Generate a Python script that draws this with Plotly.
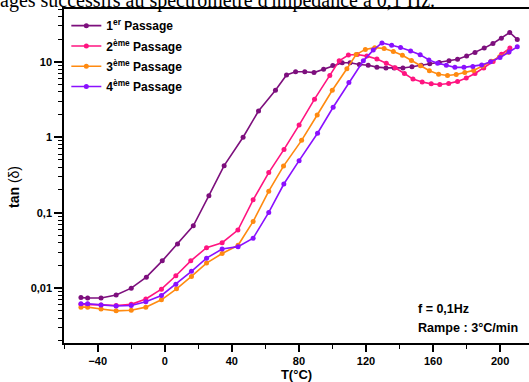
import plotly.graph_objects as go

# ---------------- data ----------------
t1 = [-50, -46, -38, -29, -20, -11, -1.5, 7.6, 17, 26.3, 35.4, 46.7, 55.9, 66, 72.6, 78, 83.5, 89,
      94.7, 100.2, 105.8, 110.5, 116, 121.3, 126.5, 131.9, 136.8, 142, 147.4, 152.9, 158, 163.7,
      169.5, 174.6, 180, 185, 190.5, 195.7, 200.7, 205.7, 210.2]
y1 = [0.0075, 0.0074, 0.0074, 0.0081, 0.010, 0.014, 0.023, 0.0385, 0.067, 0.168, 0.42, 1.0, 2.23, 4.2, 6.7, 7.4, 7.4, 7.2,
      7.95, 8.95, 9.7, 9.7, 9.2, 9.0, 8.5, 8.3, 8.3, 8.3, 8.6, 9.0, 9.4, 9.8,
      10.3, 10.8, 11.9, 13.3, 15.2, 17.5, 20.6, 24.5, 19.8]

t2 = [-50, -46, -38, -29, -20, -11.3, -2, 6.6, 15.5, 24.9, 34.2, 43.6, 52.7, 62, 71.1, 80.1, 89.3,
      98.4, 104, 109.5, 114.8, 120.5, 126.5, 132.1, 137.4, 142.9, 148, 153.5, 158.9, 164, 169.3,
      174.6, 179.8, 185, 190.2, 195.8, 200.8, 205.8]
y2 = [0.0061, 0.0061, 0.0060, 0.0059, 0.0061, 0.0072, 0.0097, 0.0146, 0.023, 0.0344, 0.040, 0.0588, 0.148, 0.34, 0.69, 1.45, 3.2,
      6.6, 10.3, 12.3, 12.5, 11.9, 10.9, 9.6, 8.35, 7.0, 5.9, 5.4, 5.1, 5.0, 5.15,
      5.5, 6.1, 7.0, 8.3, 10.1, 12.6, 15.2]

t3 = [-50, -46, -38, -29, -20, -11.3, -2, 7, 15.9, 24.9, 34.2, 43.7, 52.7, 62, 70.8, 81.6, 90.9,
      99.9, 108.6, 114.1, 119.6, 125.2, 130.8, 136.3, 141.7, 147.1, 152.5, 157.8, 163.3, 168.6,
      173.8, 178.9, 184.2, 189.4, 194.6, 199.7, 204.8]
y3 = [0.0056, 0.0056, 0.0053, 0.0050, 0.0051, 0.0056, 0.0070, 0.0098, 0.0143, 0.0215, 0.0288, 0.037, 0.0766, 0.193, 0.415, 0.91, 1.97,
      4.2, 8.1, 12.5, 14.6, 15.4, 15.0, 13.7, 12.2, 10.4, 8.9, 7.6, 6.85, 6.6,
      6.8, 7.2, 7.7, 8.8, 10.2, 11.7, 13.4]

t4 = [-50, -46, -38, -29, -20, -11.3, -2, 6.6, 15.9, 24.9, 34.2, 43.7, 52.7, 62, 71, 80.1, 91.1,
      100.4, 109.8, 118.4, 124.3, 129.5, 135.3, 140.6, 146.6, 152.3, 157.5, 162.7, 167.9, 173,
      178.4, 183.7, 189, 194.3, 199.9, 205.3, 210.2]
y4 = [0.0062, 0.0062, 0.0060, 0.0058, 0.0059, 0.0066, 0.0080, 0.0113, 0.0167, 0.025, 0.033, 0.0355, 0.046, 0.101, 0.24, 0.49, 1.13,
      2.5, 5.3, 10.3, 14.3, 17.8, 16.6, 15.5, 13.9, 12.4, 10.6, 9.6, 9.0, 8.45,
      8.45, 8.7, 9.1, 10.0, 11.4, 13.5, 15.8]

names = ["<b>1<sup>er</sup> Passage</b>", "<b>2<sup>ème</sup> Passage</b>",
         "<b>3<sup>ème</sup> Passage</b>", "<b>4<sup>ème</sup> Passage</b>"]
colors = ["#7d0f7d", "#ff1480", "#ff8a10", "#8a10ff"]

x_ticks = [-40, 0, 40, 80, 120, 160, 200]
y_tickvals = [0.01, 0.1, 1, 10]
y_ticktext = ["0,01", "0,1", "1", "10"]

# ---------------- figure ----------------
fig = go.Figure()
for i, (t, y, n, c) in enumerate(zip([t1, t2, t3, t4], [y1, y2, y3, y4], names, colors)):
    fig.add_trace(go.Scatter(x=t, y=y, name=n, mode="lines+markers", legendgroup=f"g{i}",
                             line=dict(color=c, width=1.6),
                             marker=dict(color=c, size=5, symbol="circle")))

minor_y = [k * 10 ** e for e in range(-3, 2) for k in range(2, 10)]

fig.update_layout(
    width=529, height=382,
    margin=dict(l=64, r=0, t=9, b=39, autoexpand=False),
    paper_bgcolor="white", plot_bgcolor="white",
    font=dict(family="Liberation Sans, Arial, sans-serif", color="black"),
    showlegend=True,
    legend=dict(x=0.005, y=0.9935, xanchor="left", yanchor="top",
                font=dict(size=12, color="black"), bgcolor="rgba(0,0,0,0)",
                itemwidth=30, tracegroupgap=1.3),
    xaxis=dict(range=[-60.1, 217.2], tickvals=x_ticks, showgrid=False, zeroline=False,
               showline=True, linecolor="black", linewidth=1.5, mirror=True,
               ticks="outside", ticklen=7, tickwidth=1.5, tickcolor="black",
               tickfont=dict(size=11, weight="bold"),
               minor=dict(tickvals=[-60, -20, 20, 60, 100, 140, 180], ticks="outside",
                          ticklen=4, tickwidth=1.2, tickcolor="black", showgrid=False),
               title=dict(text="<b>T(°C)</b>", font=dict(size=13), standoff=1)),
    yaxis=dict(type="log", range=[-2.727, 1.70], tickvals=y_tickvals, ticktext=y_ticktext,
               showgrid=False, zeroline=False, showline=True, linecolor="black", linewidth=1.5,
               ticks="outside", ticklen=8, tickwidth=1.5, tickcolor="black",
               tickfont=dict(size=11, weight="bold"),
               minor=dict(tickvals=minor_y, ticks="outside", ticklen=4, tickwidth=1,
                          tickcolor="black", showgrid=False)),
)

fig.add_annotation(text="<b>tan</b> (δ)", textangle=-90, xref="paper", yref="paper",
                   x=-50 / 465, y=(343 - 187) / 334, xanchor="center", yanchor="middle",
                   showarrow=False, font=dict(size=14, color="black"))
fig.add_annotation(text="<b>f = 0,1Hz</b>", xref="paper", yref="paper",
                   x=(416 - 64) / 465, y=(343 - 309) / 334, xanchor="left", yanchor="middle",
                   showarrow=False, font=dict(size=12.5, color="black"))
fig.add_annotation(text="<b>Rampe : 3°C/min</b>", xref="paper", yref="paper",
                   x=(416 - 64) / 465, y=(343 - 328) / 334, xanchor="left", yanchor="middle",
                   showarrow=False, font=dict(size=12.6, color="black"))
fig.add_annotation(text="ages successifs au spectromètre d'impédance à 0,1 Hz.", xref="paper", yref="paper",
                   x=-66 / 465, y=1, xanchor="left", yanchor="bottom", yshift=-5,
                   showarrow=False, font=dict(size=20, color="black",
                                              family="Liberation Serif, Times New Roman, serif"))

fig.write_html("out.html", config={"displayModeBar": False},
               post_script="document.body.style.margin='0';document.body.style.overflow='hidden';")
